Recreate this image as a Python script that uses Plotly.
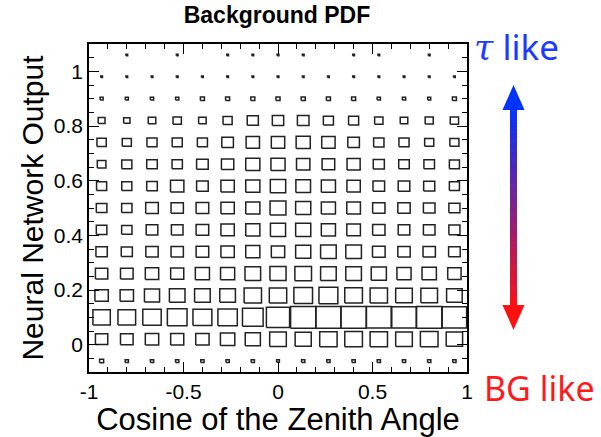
import plotly.graph_objects as go

# ---------------- data ----------------
x_edges_range = [-1.0, 1.0]
y_edges_range = [-0.1, 1.1]
n_x_bins = 15
n_y_bins = 15

# bin contents (relative), rows from bottom (NN=-0.06) to top (NN=1.06)
row_m006 = [0.16, 0.13, 0.13, 0.13, 0.13, 0.13, 0.13, 0.11, 0.13, 0.13, 0.13, 0.13, 0.13, 0.13, 0.13]
row_002 = [0.49, 0.50, 0.53, 0.52, 0.53, 0.57, 0.60, 0.66, 0.64, 0.69, 0.70, 0.69, 0.66, 0.70, 0.65]
row_010 = [0.69, 0.70, 0.73, 0.78, 0.75, 0.77, 0.82, 0.92, 1.00, 0.99, 1.00, 0.98, 0.97, 1.00, 0.97]
row_018 = [0.53, 0.53, 0.60, 0.62, 0.62, 0.62, 0.69, 0.69, 0.74, 0.75, 0.70, 0.69, 0.66, 0.66, 0.62]
row_026 = [0.49, 0.50, 0.53, 0.52, 0.56, 0.56, 0.62, 0.64, 0.66, 0.62, 0.62, 0.60, 0.56, 0.57, 0.53]
row_034 = [0.45, 0.44, 0.49, 0.49, 0.50, 0.53, 0.56, 0.53, 0.60, 0.62, 0.62, 0.50, 0.49, 0.49, 0.46]
row_042 = [0.42, 0.41, 0.46, 0.46, 0.50, 0.53, 0.56, 0.60, 0.60, 0.56, 0.54, 0.49, 0.46, 0.46, 0.44]
row_050 = [0.42, 0.41, 0.50, 0.49, 0.50, 0.53, 0.56, 0.63, 0.60, 0.56, 0.54, 0.49, 0.49, 0.46, 0.44]
row_058 = [0.40, 0.40, 0.42, 0.53, 0.46, 0.53, 0.56, 0.61, 0.58, 0.56, 0.53, 0.46, 0.46, 0.44, 0.40]
row_066 = [0.34, 0.40, 0.42, 0.41, 0.46, 0.49, 0.56, 0.56, 0.53, 0.50, 0.52, 0.44, 0.42, 0.42, 0.40]
row_074 = [0.37, 0.36, 0.40, 0.40, 0.40, 0.46, 0.53, 0.53, 0.56, 0.53, 0.46, 0.41, 0.40, 0.36, 0.36]
row_082 = [0.27, 0.25, 0.30, 0.33, 0.30, 0.36, 0.44, 0.45, 0.46, 0.40, 0.40, 0.33, 0.30, 0.32, 0.33]
row_090 = [0.12, 0.12, 0.13, 0.13, 0.16, 0.16, 0.16, 0.16, 0.16, 0.16, 0.16, 0.13, 0.13, 0.12, 0.16]
row_098 = [0.07] * 15
row_106 = [0.0, 0.07, 0.0, 0.07, 0.0, 0.07, 0.07, 0.07, 0.07, 0.0, 0.07, 0.07, 0.0, 0.07, 0.0]

pdf_rows = [row_m006, row_002, row_010, row_018, row_026, row_034, row_042, row_050,
            row_058, row_066, row_074, row_082, row_090, row_098, row_106]

x_tickvals = [-1, -0.5, 0, 0.5, 1]
x_ticktext = ["-1", "-0.5", "0", "0.5", "1"]
y_tickvals = [0, 0.2, 0.4, 0.6, 0.8, 1.0]
y_ticktext = ["0", "0.2", "0.4", "0.6", "0.8", "1"]

# ---------------- boxes (ROOT "BOX" style) ----------------
bw = (x_edges_range[1] - x_edges_range[0]) / n_x_bins
bh = (y_edges_range[1] - y_edges_range[0]) / n_y_bins
vmax = max(max(r) for r in pdf_rows)

xs, ys = [], []
for j, row in enumerate(pdf_rows):
    yc = y_edges_range[0] + (j + 0.5) * bh
    for i, v in enumerate(row):
        if v <= 0:
            continue
        xc = x_edges_range[0] + (i + 0.5) * bw
        f = v / vmax
        hx, hy = 0.5 * f * bw, 0.5 * f * bh
        xs += [xc - hx, xc + hx, xc + hx, xc - hx, xc - hx, None]
        ys += [yc - hy, yc - hy, yc + hy, yc + hy, yc - hy, None]

fig = go.Figure()
fig.add_trace(go.Scatter(x=xs, y=ys, mode="lines",
                         line=dict(color="#222222", width=1.5),
                         hoverinfo="skip", showlegend=False))

# ---------------- layout ----------------
W, H = 601, 437
ML, MR, MT, MB = 89, 134, 44, 65
PW, PH = W - ML - MR, H - MT - MB


def px(xp):
    return (xp - ML) / PW


def py(yp):
    return (H - MB - yp) / PH


FONT = "Arial, Liberation Sans, sans-serif"

axis_common = dict(
    showline=True, linecolor="black", linewidth=1.5, mirror="ticks",
    ticks="inside", ticklen=10, tickwidth=1.2, tickcolor="black",
    showgrid=False, zeroline=False,
    tickfont=dict(family=FONT, size=21, color="black"),
)

fig.update_layout(
    width=W, height=H,
    margin=dict(l=ML, r=MR, t=MT, b=MB, autoexpand=False),
    paper_bgcolor="white", plot_bgcolor="white",
    showlegend=False,
    title=dict(text="<b>Background PDF</b>", font=dict(family=FONT, size=23, color="black"),
               x=px(277), xref="paper", xanchor="center",
               y=1 - 15 / H, yref="container", yanchor="middle"),
    xaxis=dict(range=x_edges_range, tickvals=x_tickvals, ticktext=x_ticktext,
               minor=dict(ticks="inside", ticklen=5, tickwidth=1.2, tickcolor="black",
                          dtick=0.1, tick0=0, showgrid=False),
               title=dict(text="Cosine of the Zenith Angle",
                          font=dict(family=FONT, size=31, color="black"), standoff=0),
               **axis_common),
    yaxis=dict(range=y_edges_range, tickvals=y_tickvals, ticktext=y_ticktext,
               minor=dict(ticks="inside", ticklen=5, tickwidth=1.2, tickcolor="black",
                          dtick=0.05, tick0=0, showgrid=False),
               title=dict(text="Neural Network Output",
                          font=dict(family=FONT, size=30, color="black"), standoff=1),
               **axis_common),
)

# ---------------- gradient double arrow ----------------
blue = (0, 51, 255)
red = (255, 17, 17)
shaft_x0, shaft_x1 = px(510), px(517)
top_base, bot_base = 108, 307
nseg = 60
for k in range(nseg):
    y0p = top_base + (bot_base - top_base) * k / nseg
    y1p = top_base + (bot_base - top_base) * (k + 1) / nseg + 0.6
    t = (k + 0.5) / nseg
    c = tuple(round(blue[m] + (red[m] - blue[m]) * t) for m in range(3))
    fig.add_shape(type="rect", xref="paper", yref="paper",
                  x0=shaft_x0, x1=shaft_x1, y0=py(y1p), y1=py(y0p),
                  line=dict(width=0), fillcolor="rgb(%d,%d,%d)" % c, layer="above")

ax_c = 513.5
fig.add_shape(type="path", xref="paper", yref="paper",
              path="M %f %f L %f %f L %f %f Z" % (px(ax_c - 11), py(110), px(ax_c + 11), py(110), px(ax_c), py(85)),
              line=dict(width=0), fillcolor="rgb(%d,%d,%d)" % blue)
fig.add_shape(type="path", xref="paper", yref="paper",
              path="M %f %f L %f %f L %f %f Z" % (px(ax_c - 11), py(305), px(ax_c + 11), py(305), px(ax_c), py(330)),
              line=dict(width=0), fillcolor="rgb(%d,%d,%d)" % red)

fig.add_annotation(xref="paper", yref="paper", x=px(516), y=py(46),
                   text='<span style="font-family:DejaVu Serif"><i>τ</i></span> like',
                   showarrow=False, xanchor="center", yanchor="middle",
                   font=dict(family="Noto Sans", size=35, color="#1a3cff"))
fig.add_annotation(xref="paper", yref="paper", x=px(539), y=py(388),
                   text="BG like", showarrow=False, xanchor="center", yanchor="middle",
                   font=dict(family="Noto Sans", size=34, color="#ff1a1a"))

fig.write_html("out.html")
